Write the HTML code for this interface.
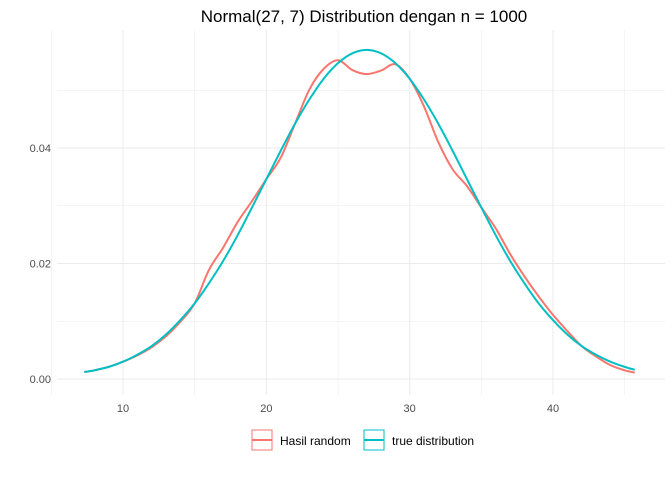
<!DOCTYPE html>
<html><head><meta charset="utf-8"><style>
body{margin:0;background:#fff;font-family:"Liberation Sans",sans-serif}
</style></head><body>
<svg id="c" width="672" height="480" xmlns="http://www.w3.org/2000/svg">
<text x="364" y="22" font-size="17" text-anchor="middle" fill="#000">Normal(27, 7) Distribution dengan n = 1000</text>
<g id="grid"></g><g id="axes"></g><g id="lines"></g>
<g>
<g>
<rect x="252" y="430" width="20" height="20" fill="none" stroke="#F8766D" stroke-width="1"/>
<line x1="252" y1="440" x2="272" y2="440" stroke="#F8766D" stroke-width="2"/>
<text x="280" y="445" font-size="12" fill="#000">Hasil random</text></g>
<g>
<rect x="364" y="430" width="20" height="20" fill="none" stroke="#00BFC4" stroke-width="1"/>
<line x1="364" y1="440" x2="384" y2="440" stroke="#00BFC4" stroke-width="2"/>
<text x="392" y="445" font-size="12" fill="#000">true distribution</text></g>
</g>
</svg>
<script>
const xTicks=[10,20,30,40];
const xMinor=[5,15,25,35,45];
const yTicks=[0,0.02,0.04];
const yTickLabels=["0.00","0.02","0.04"];
const yMinor=[0.01,0.03,0.05];
const xs=[7.3,8,9,10,11,12,13,14,15,16,17,18,19,20,21,22,23,24,25,26,27,28,29,30,31,32,33,34,35,36,37,38,39,40,41,42,43,44,45,45.7];
const randomVals=[0.0012,0.0015,0.0021,0.0030,0.0041,0.0055,0.0074,0.0099,0.0131,0.0189,0.0228,0.0272,0.0308,0.0346,0.0383,0.0442,0.0501,0.0537,0.0552,0.0535,0.0528,0.0534,0.0545,0.0520,0.0472,0.0410,0.0363,0.0334,0.0297,0.0261,0.0217,0.0178,0.0143,0.0111,0.0083,0.0057,0.0039,0.0024,0.0015,0.0011];
const trueVals=[0.0012,0.0015,0.0021,0.0030,0.0042,0.0057,0.0077,0.0102,0.0131,0.0166,0.0205,0.0249,0.0297,0.0346,0.0395,0.0442,0.0484,0.0520,0.0547,0.0564,0.0570,0.0564,0.0547,0.0520,0.0484,0.0442,0.0395,0.0346,0.0297,0.0249,0.0205,0.0166,0.0131,0.0102,0.0077,0.0057,0.0042,0.0030,0.0021,0.0016];
const NS="http://www.w3.org/2000/svg";
const px0=57,px1=665,py0=30,py1=395;
function X(v){return 123+(v-10)*(430/30);}
function Y(v){return 379-v*5775;}
function mk(t,a,p){const e=document.createElementNS(NS,t);for(const k in a)e.setAttribute(k,a[k]);p.appendChild(e);return e;}
const g=document.getElementById('grid'),ax=document.getElementById('axes'),ln=document.getElementById('lines');
xMinor.forEach(v=>{const e=mk('line',{x1:X(v),x2:X(v),y1:py0,y2:py1,stroke:'#ebebeb','stroke-width':0.5},g);

});
yMinor.forEach(v=>{const e=mk('line',{x1:px0,x2:px1,y1:Y(v),y2:Y(v),stroke:'#ebebeb','stroke-width':0.5},g);

});
xTicks.forEach(v=>{const e=mk('line',{x1:X(v),x2:X(v),y1:py0,y2:py1,stroke:'#ebebeb','stroke-width':1},g);


const t=mk('text',{x:X(v),y:412,'font-size':11,'text-anchor':'middle',fill:'#4d4d4d'},ax);t.textContent=v;

});
yTicks.forEach((v,i)=>{const e=mk('line',{x1:px0,x2:px1,y1:Y(v),y2:Y(v),stroke:'#ebebeb','stroke-width':1},g);


const t=mk('text',{x:51,y:Y(v)+4,'font-size':11,'text-anchor':'end',fill:'#4d4d4d'},ax);t.textContent=yTickLabels[i];

});
function path(vals){const p=xs.map((x,i)=>[X(x),Y(vals[i])]);let d='M'+p[0][0]+','+p[0][1];
for(let i=0;i<p.length-1;i++){const a=p[Math.max(0,i-1)],b=p[i],c=p[i+1],e=p[Math.min(p.length-1,i+2)];
d+=' C'+(b[0]+(c[0]-a[0])/6)+','+(b[1]+(c[1]-a[1])/6)+' '+(c[0]-(e[0]-b[0])/6)+','+(c[1]-(e[1]-b[1])/6)+' '+c[0]+','+c[1];}return d;}
const r=mk('path',{d:path(randomVals),fill:'none',stroke:'#F8766D','stroke-width':2},ln);


const tl=mk('path',{d:path(trueVals),fill:'none',stroke:'#00BFC4','stroke-width':2},ln);


</script>
</body></html>
